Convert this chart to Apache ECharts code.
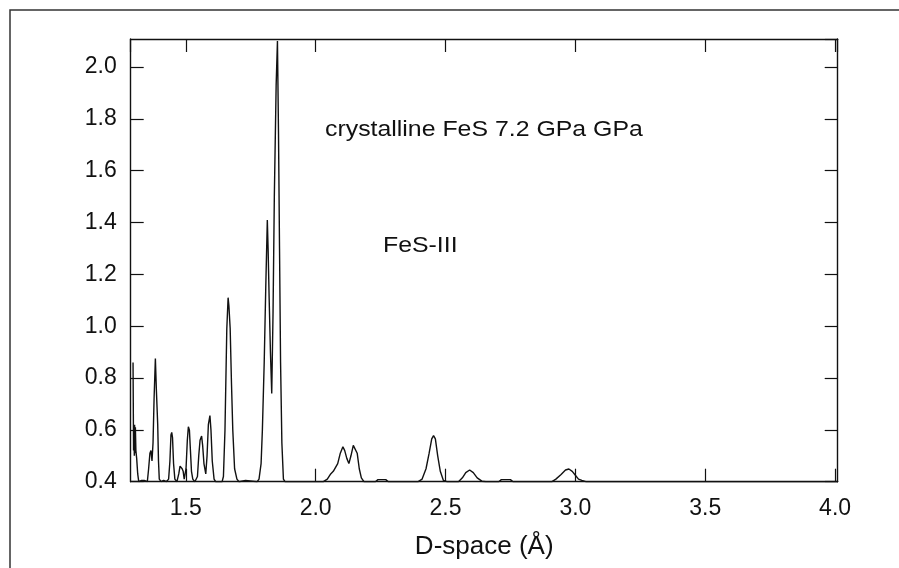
<!DOCTYPE html>
<html>
<head>
<meta charset="utf-8">
<script src="https://cdn.jsdelivr.net/npm/echarts@6/dist/echarts.min.js"></script>
<style>
  html, body { margin: 0; padding: 0; background: #fff; }
  #chart { width: 899px; height: 568px; }
</style>
</head>
<body>
<div id="chart"></div>
<script>
// d-spacing (Å) and intensity
const dSpace = [
  1.297, 1.299, 1.300, 1.302, 1.303, 1.305, 1.306, 1.308, 1.311, 1.315, 1.319,
  1.330, 1.335, 1.340, 1.352,
  1.357, 1.362, 1.366, 1.370, 1.374, 1.378, 1.383, 1.387, 1.392, 1.395, 1.398,
  1.405, 1.415, 1.425, 1.434,
  1.439, 1.443, 1.446, 1.449, 1.453, 1.458,
  1.466, 1.473, 1.478, 1.482, 1.486, 1.490, 1.494,
  1.501, 1.506, 1.510, 1.514, 1.518, 1.522, 1.527,
  1.535, 1.545, 1.550, 1.555, 1.561, 1.565, 1.570, 1.577,
  1.582, 1.587, 1.593, 1.597, 1.602, 1.609,
  1.615, 1.640, 1.645, 1.651, 1.658, 1.663, 1.666, 1.671, 1.676, 1.681, 1.688, 1.697,
  1.705, 1.712, 1.730, 1.737,
  1.775, 1.782, 1.790, 1.795, 1.802, 1.808, 1.814, 1.817, 1.821, 1.826, 1.831,
  1.836, 1.841, 1.848, 1.853, 1.857, 1.861, 1.865, 1.870, 1.876, 1.882,
  2.030, 2.045, 2.058, 2.068, 2.075, 2.085, 2.095, 2.105, 2.112, 2.120, 2.128,
  2.136, 2.145, 2.152, 2.160, 2.168, 2.176, 2.186,
  2.230, 2.240, 2.270, 2.280,
  2.395, 2.410, 2.425, 2.437, 2.447, 2.454, 2.461, 2.470, 2.480, 2.492, 2.505,
  2.550, 2.565, 2.578, 2.593, 2.607, 2.622, 2.640, 2.655,
  2.705, 2.715, 2.750, 2.760,
  2.910, 2.925, 2.945, 2.962, 2.975, 2.988, 3.000, 3.012, 3.025, 3.040,
  4.010
];
const intensity = [
  0.86, 0.52, 0.62, 0.50, 0.62, 0.51, 0.61, 0.52, 0.49, 0.43, 0.40,
  0.405, 0.40, 0.405, 0.40,
  0.45, 0.51, 0.52, 0.48, 0.55, 0.72, 0.875, 0.75, 0.62, 0.48, 0.41,
  0.40, 0.405, 0.40, 0.41,
  0.48, 0.58, 0.59, 0.57, 0.47, 0.41,
  0.40, 0.43, 0.46, 0.464, 0.45, 0.44, 0.41,
  0.45, 0.56, 0.612, 0.60, 0.52, 0.44, 0.41,
  0.40, 0.42, 0.50, 0.56, 0.576, 0.54, 0.47, 0.43,
  0.50, 0.62, 0.655, 0.60, 0.48, 0.41,
  0.40, 0.40, 0.42, 0.60, 0.99, 1.11, 1.08, 0.99, 0.78, 0.60, 0.45, 0.41,
  0.40, 0.405, 0.405, 0.40,
  0.40, 0.41, 0.47, 0.60, 0.86, 1.15, 1.41, 1.30, 1.11, 0.90, 0.74,
  1.05, 1.50, 1.93, 2.10, 1.75, 1.30, 0.86, 0.55, 0.41, 0.40,
  0.40, 0.41, 0.43, 0.44, 0.445, 0.47, 0.51, 0.535, 0.52, 0.49, 0.47,
  0.50, 0.54, 0.54, 0.51, 0.45, 0.415, 0.40,
  0.40, 0.408, 0.408, 0.40,
  0.40, 0.41, 0.45, 0.51, 0.565, 0.578, 0.565, 0.50, 0.44, 0.405, 0.40,
  0.40, 0.415, 0.435, 0.445, 0.435, 0.415, 0.402, 0.40,
  0.40, 0.408, 0.408, 0.40,
  0.40, 0.41, 0.428, 0.445, 0.449, 0.44, 0.425, 0.41, 0.405, 0.40,
  0.40
];

const xMin = 1.288, xMax = 4.01;
const yMin = 0.4, yMax = 2.108;
const font = '"Liberation Sans", Arial, sans-serif';
const ink = '#111';

const chart = echarts.init(document.getElementById('chart'));

const xBase = {
  type: 'value', min: xMin, max: xMax, splitNumber: 5,
  axisLine: { show: true, onZero: false, lineStyle: { color: ink, width: 1.4 } },
  axisTick: { show: true, inside: true, length: 13, lineStyle: { color: ink, width: 1.2 } },
  splitLine: { show: false }
};
const yBase = {
  type: 'value', min: yMin, max: yMax, interval: 0.2,
  axisLine: { show: true, onZero: false, lineStyle: { color: ink, width: 1.4 } },
  axisTick: { show: true, inside: true, length: 13, lineStyle: { color: ink, width: 1.2 } },
  splitLine: { show: false }
};

chart.setOption({
  animation: false,
  backgroundColor: '#fff',
  grid: { left: 130.7, right: 61.3, top: 39, bottom: 86.3 },
  xAxis: [
    {
      ...xBase, position: 'bottom',
      name: 'D-space (Å)', nameLocation: 'middle', nameGap: 52,
      nameTextStyle: { fontFamily: font, fontSize: 26, color: ink },
      axisLabel: {
        fontFamily: font, fontSize: 23, color: ink, margin: 15,
        showMinLabel: false, showMaxLabel: false,
        formatter: (v) => v.toFixed(1)
      }
    },
    { ...xBase, position: 'top', axisLabel: { show: false } }
  ],
  yAxis: [
    {
      ...yBase, position: 'left',
      axisLabel: {
        fontFamily: font, fontSize: 23, color: ink, margin: 14,
        showMaxLabel: false,
        formatter: (v) => v.toFixed(1)
      }
    },
    { ...yBase, position: 'right', axisLabel: { show: false } }
  ],
  graphic: [
    {
      type: 'rect', silent: true, z: -1,
      shape: { x: 10, y: 10, width: 1000, height: 1000 },
      style: { fill: 'none', stroke: '#333', lineWidth: 1.5 }
    },
    {
      type: 'text', x: 325, y: 119, scaleX: 1.13,
      style: { text: 'crystalline FeS 7.2 GPa GPa', font: '22px ' + font, fill: ink, verticalAlign: 'top' }
    },
    {
      type: 'text', x: 383, y: 235, scaleX: 1.13,
      style: { text: 'FeS-III', font: '22px ' + font, fill: ink, verticalAlign: 'top' }
    }
  ],
  series: [
    {
      type: 'line',
      xAxisIndex: 0, yAxisIndex: 0,
      data: dSpace.map((d, i) => [d, intensity[i]]),
      showSymbol: false,
      clip: true,
      lineStyle: { color: ink, width: 1.4 }
    }
  ]
});
</script>
</body>
</html>
